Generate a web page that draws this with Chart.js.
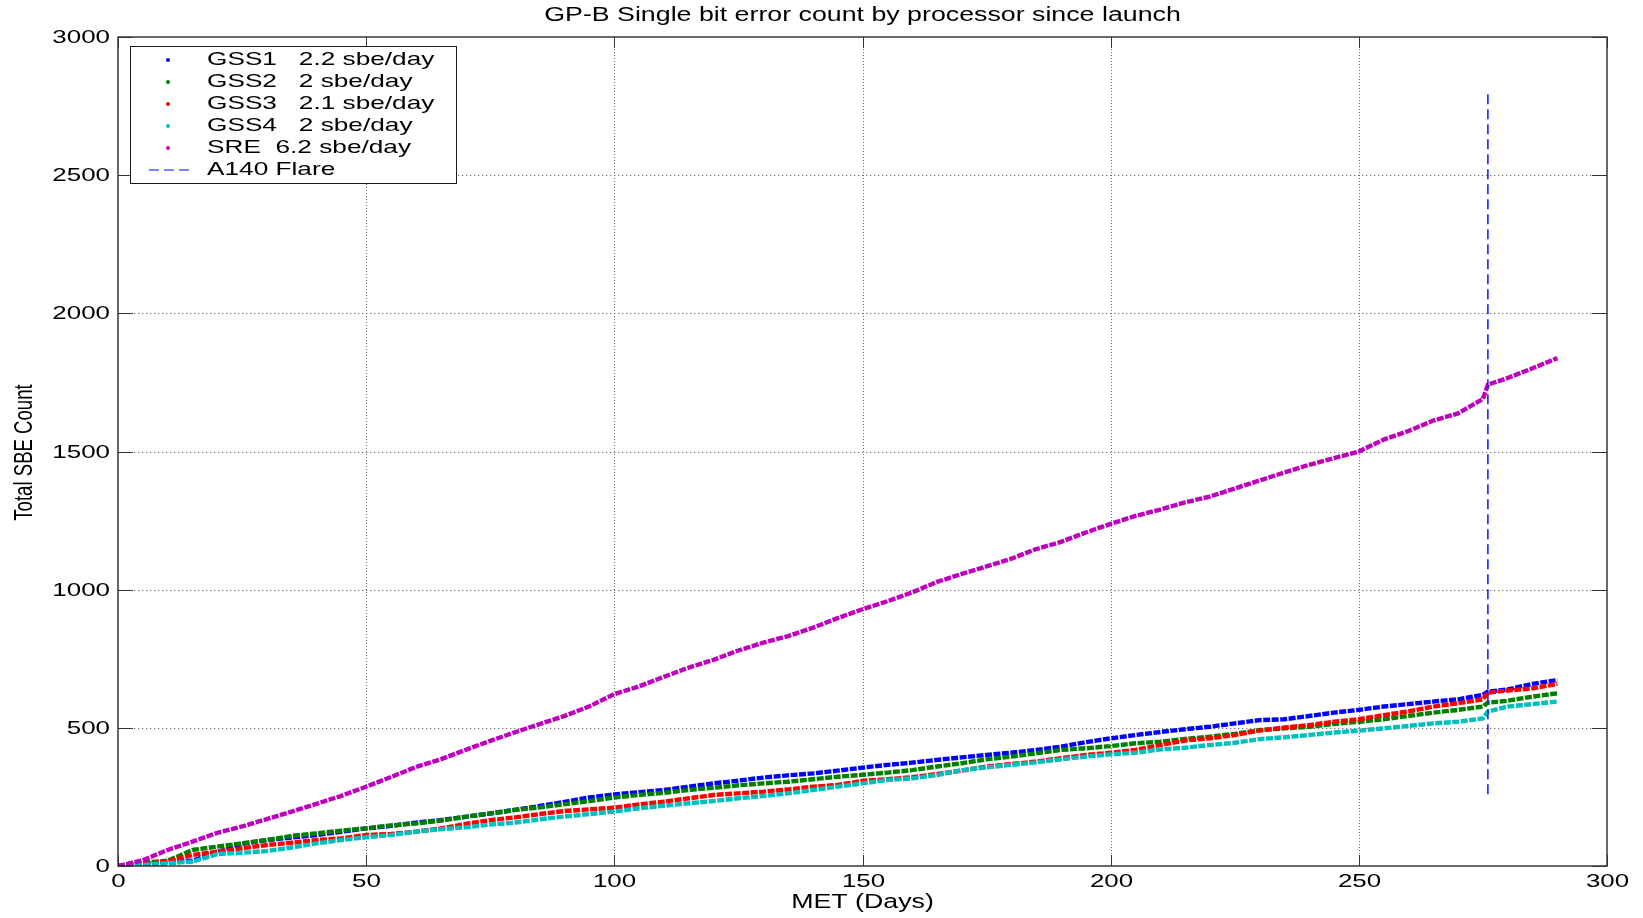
<!DOCTYPE html>
<html>
<head>
<meta charset="utf-8">
<title>GP-B Single bit error count</title>
<script src="https://cdn.jsdelivr.net/npm/chart.js@4"></script>
<style>
  body { margin: 0; background: #fff; }
  #wrap { width: 1643px; height: 918px; }
</style>
</head>
<body>
<div id="wrap"><canvas id="sbeChart"></canvas></div>
<script>
// days since launch (MET) at which the curves were read
const days = [0, 5, 10, 15, 20, 25, 30, 35, 40, 45, 50, 55, 60, 65, 70, 75, 80, 85, 90, 95,
  100, 105, 110, 115, 120, 125, 130, 135, 140, 145, 150, 155, 160, 165, 170, 175, 180, 185, 190, 195,
  200, 205, 210, 215, 220, 225, 230, 235, 240, 245, 250, 255, 260, 265, 270, 275, 276, 280, 285, 290];

const gss1 = [0, 7, 16, 19, 50, 80, 94, 103, 112, 124, 136, 145, 157, 166, 178, 190, 203, 217, 232, 248,
  259, 267, 275, 287, 299, 309, 320, 328, 335, 345, 356, 366, 374, 384, 393, 402, 410, 420, 432, 448,
  462, 474, 485, 495, 504, 516, 528, 531, 543, 555, 565, 577, 586, 595, 603, 619, 631, 639, 659, 673];
const gss2 = [0, 12, 19, 58, 70, 82, 94, 109, 118, 128, 136, 147, 154, 164, 178, 190, 203, 212, 224, 235,
  248, 257, 265, 275, 283, 292, 299, 305, 314, 323, 330, 338, 347, 360, 372, 386, 396, 408, 420, 426,
  434, 444, 450, 460, 468, 478, 492, 498, 504, 514, 522, 531, 543, 555, 565, 577, 591, 598, 613, 625];
const gss3 = [0, 7, 16, 40, 52, 64, 76, 84, 94, 100, 112, 116, 124, 136, 152, 166, 176, 188, 199, 205,
  211, 223, 233, 245, 257, 263, 269, 277, 287, 293, 308, 314, 321, 333, 345, 360, 369, 378, 390, 402,
  410, 420, 438, 454, 462, 474, 490, 501, 510, 522, 531, 546, 559, 577, 589, 603, 627, 635, 643, 659];
const gss4 = [0, 4, 10, 16, 43, 48, 54, 67, 82, 94, 104, 112, 124, 133, 140, 150, 157, 169, 179, 188,
  197, 209, 218, 227, 235, 245, 253, 263, 275, 287, 299, 311, 317, 329, 347, 357, 366, 375, 386, 396,
  404, 410, 422, 428, 438, 446, 459, 466, 474, 483, 490, 498, 507, 516, 522, 534, 559, 577, 586, 595];
const sre = [0, 21, 58, 88, 120, 143, 170, 197, 225, 254, 287, 322, 358, 386, 420, 453, 484, 514, 543, 578,
  622, 650, 685, 718, 746, 780, 808, 832, 862, 897, 929, 958, 990, 1028, 1057, 1084, 1112, 1147, 1173, 1207,
  1238, 1267, 1290, 1316, 1337, 1366, 1395, 1424, 1452, 1476, 1500, 1543, 1574, 1612, 1638, 1690, 1742, 1766, 1801, 1838];

// A140 flare marker
const flareDay = 276;
const flareSpan = [260, 2800];

const seriesLabels = ['GSS1   2.2 sbe/day', 'GSS2   2 sbe/day', 'GSS3   2.1 sbe/day', 'GSS4   2 sbe/day', 'SRE  6.2 sbe/day'];
const seriesColors = ['#0000ff', '#008000', '#ff0000', '#00bfbf', '#bf00bf'];
const flareLabel = 'A140 Flare';

const xTicks = [0, 50, 100, 150, 200, 250, 300];
const yTicks = [0, 500, 1000, 1500, 2000, 2500, 3000];

const FONT = 'Liberation Sans, Arial, Helvetica, sans-serif';
const STRETCH = 1.38; // the original figure text is wide

function wideText(ctx, txt, x, y, align, size) {
  ctx.font = size + 'px ' + FONT;
  const w = ctx.measureText(txt).width * STRETCH;
  let left = x;
  if (align === 'center') left = x - w / 2;
  if (align === 'right') left = x - w;
  ctx.save();
  ctx.translate(left, y);
  ctx.scale(STRETCH, 1);
  ctx.textAlign = 'left';
  ctx.textBaseline = 'middle';
  ctx.fillStyle = '#000';
  ctx.fillText(txt, 0, 0);
  ctx.restore();
}

// matlab-like axes: dotted grid, boxed frame, inward ticks, wide labels, legend box
const matlabAxes = {
  id: 'matlabAxes',
  beforeDatasetsDraw(chart) {
    const ctx = chart.ctx, a = chart.chartArea;
    const xs = chart.scales.x, ys = chart.scales.y;
    ctx.save();
    ctx.strokeStyle = '#6e6e6e';
    ctx.lineWidth = 1;
    ctx.setLineDash([1.3, 2.7]);
    yTicks.forEach(v => {
      const py = Math.round(ys.getPixelForValue(v)) + 0.5;
      if (py <= a.top + 1 || py >= a.bottom - 1) return;
      ctx.beginPath(); ctx.moveTo(a.left, py); ctx.lineTo(a.right, py); ctx.stroke();
    });
    ctx.setLineDash([1, 2]);
    xTicks.forEach(v => {
      const px = Math.round(xs.getPixelForValue(v)) + 0.5;
      if (px <= a.left + 1 || px >= a.right - 1) return;
      ctx.beginPath(); ctx.moveTo(px, a.top); ctx.lineTo(px, a.bottom); ctx.stroke();
    });
    ctx.restore();
  },
  afterDatasetsDraw(chart) {
    const ctx = chart.ctx, a = chart.chartArea;
    const xs = chart.scales.x, ys = chart.scales.y;
    ctx.save();
    // frame
    ctx.strokeStyle = '#1a1a1a';
    ctx.lineWidth = 1.3;
    ctx.strokeRect(a.left, a.top, a.right - a.left, a.bottom - a.top);
    // ticks
    ctx.lineWidth = 1;
    ctx.strokeStyle = '#333';
    yTicks.forEach(v => {
      const py = Math.round(ys.getPixelForValue(v)) + 0.5;
      ctx.beginPath();
      ctx.moveTo(a.left, py); ctx.lineTo(a.left + 15, py);
      ctx.moveTo(a.right, py); ctx.lineTo(a.right - 15, py);
      ctx.stroke();
      wideText(ctx, String(v), a.left - 8, py, 'right', 18.8);
    });
    xTicks.forEach(v => {
      const px = Math.round(xs.getPixelForValue(v)) + 0.5;
      ctx.beginPath();
      ctx.moveTo(px, a.bottom); ctx.lineTo(px, a.bottom - 11);
      ctx.moveTo(px, a.top); ctx.lineTo(px, a.top + 11);
      ctx.stroke();
      wideText(ctx, String(v), px, a.bottom + 16, 'center', 18.8);
    });
    // titles
    const cx = (a.left + a.right) / 2;
    wideText(ctx, 'GP-B Single bit error count by processor since launch', cx, 16, 'center', 19.4);
    wideText(ctx, 'MET (Days)', cx, 903, 'center', 19.4);
    ctx.save();
    ctx.translate(25, (a.top + a.bottom) / 2 + 1);
    ctx.rotate(-Math.PI / 2);
    ctx.font = '18.6px ' + FONT;
    ctx.textAlign = 'center';
    ctx.textBaseline = 'middle';
    ctx.scale(1, STRETCH);
    ctx.fillStyle = '#000';
    ctx.fillText('Total SBE Count', 0, 0);
    ctx.restore();

    // legend box
    const lx = 130.5, ly = 46.5, lw = 326, lh = 137;
    ctx.fillStyle = '#fff';
    ctx.fillRect(lx, ly, lw, lh);
    ctx.strokeStyle = '#1a1a1a';
    ctx.lineWidth = 1;
    ctx.strokeRect(lx, ly, lw, lh);
    const rows = seriesLabels.concat([flareLabel]);
    rows.forEach((lab, i) => {
      const ry = 60 + i * 22;
      if (i < seriesLabels.length) {
        ctx.fillStyle = seriesColors[i];
        ctx.beginPath(); ctx.arc(168, ry, 2, 0, Math.PI * 2); ctx.fill();
      } else {
        ctx.strokeStyle = '#5a5aff';
        ctx.lineWidth = 1.4;
        ctx.setLineDash([10, 5]);
        ctx.beginPath(); ctx.moveTo(149, ry); ctx.lineTo(193, ry); ctx.stroke();
        ctx.setLineDash([]);
      }
      wideText(ctx, lab, 207, ry, 'left', 19);
    });
    ctx.restore();
  }
};

function pts(vals) {
  return days.map((d, i) => ({ x: d, y: vals[i] }));
}

const seriesVals = [gss1, gss2, gss3, gss4, sre];
const datasets = seriesVals.map((vals, i) => ({
  label: seriesLabels[i],
  data: pts(vals),
  showLine: true,
  borderColor: seriesColors[i],
  backgroundColor: seriesColors[i],
  borderWidth: 4.4,
  borderDash: [7, 1.5],
  pointRadius: 0,
  pointHoverRadius: 0,
  order: 10 - i
}));
datasets.push({
  label: flareLabel,
  data: [{ x: flareDay, y: flareSpan[0] }, { x: flareDay, y: flareSpan[1] }],
  showLine: true,
  borderColor: '#1f1fff',
  borderWidth: 1.6,
  borderDash: [10, 5],
  pointRadius: 0,
  order: 1
});

const ctx = document.getElementById('sbeChart');
const chart = new Chart(ctx, {
  type: 'scatter',
  data: { datasets: datasets },
  options: {
    responsive: true,
    maintainAspectRatio: false,
    animation: false,
    layout: { padding: { left: 118, right: 36, top: 37, bottom: 52 } },
    plugins: {
      legend: { display: false },
      title: { display: false },
      tooltip: { enabled: false }
    },
    scales: {
      x: { type: 'linear', min: 0, max: 300, display: false },
      y: { type: 'linear', min: 0, max: 3000, display: false }
    }
  },
  plugins: [matlabAxes]
});
</script>
</body>
</html>
